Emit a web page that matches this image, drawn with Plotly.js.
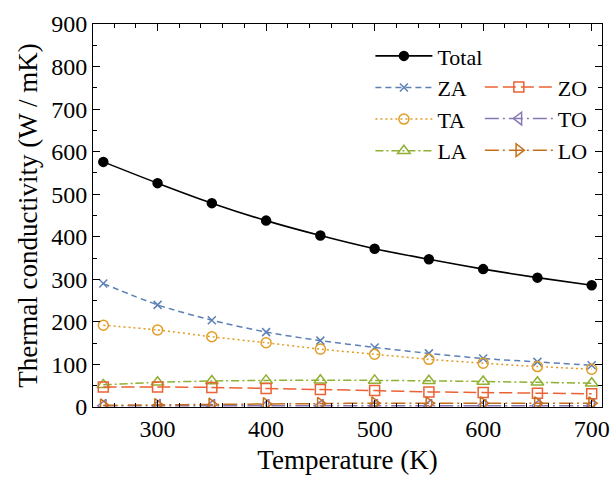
<!DOCTYPE html>
<html>
<head>
<meta charset="utf-8">
<script src="https://cdn.plot.ly/plotly-3.0.1.min.js"></script>
<style>html,body{margin:0;padding:0;background:#fff;}#chart{width:613px;height:477px;}</style>
</head>
<body>
<div id="chart"></div>
<script>
const temperature = [250, 300, 350, 400, 450, 500, 550, 600, 650, 700];
const total = [576, 526, 479, 438, 403, 372, 347, 324, 304, 286];
const za = [290, 240, 204, 176, 156, 140, 126, 114, 106, 98];
const ta = [192, 181, 165, 151, 136, 124, 112, 103, 95, 89];
const la = [52, 58, 61, 62.5, 63, 62.5, 61.5, 60, 58, 56];
const zo = [47, 47, 46, 43.5, 41, 38.5, 35.5, 34, 32.5, 31];
const to = [3, 3, 3, 3, 3, 3, 3, 3, 3, 3];
const lo = [4, 5, 6, 7, 8, 9, 9, 9, 9, 9];

const F = "Liberation Serif";

function tr(name, y, color, dash, symbol, size, legend, width) {
  return {
    x: temperature, y: y, name: name, type: 'scatter', mode: 'lines+markers',
    line: {color: color, dash: dash, width: width || 1.5, shape: 'spline', smoothing: 0.8},
    marker: {symbol: symbol, size: size, color: color, line: {color: color, width: 1.5}},
    legend: legend
  };
}

const data = [
  tr('Total', total, '#000000', 'solid', 'circle', 9, 'legend', 1.6),
  tr('ZA', za, '#5E81B5', '6px,4px', 'x-thin', 8, 'legend'),
  tr('TA', ta, '#E19C24', '2px,3px', 'circle-open', 10, 'legend'),
  tr('LA', la, '#8FB032', '8px,3px,2px,3px', 'triangle-up-open', 11, 'legend'),
  tr('ZO', zo, '#EB6235', '13px,5px', 'square-open', 10, 'legend2'),
  tr('TO', to, '#8778B3', '14px,4px,2px,4px', 'triangle-left-open', 11, 'legend2'),
  tr('LO', lo, '#C56E1A', '14px,4px,2px,4px', 'triangle-right-open', 11, 'legend2')
];

const axisCommon = {
  showline: true, linecolor: '#000', linewidth: 1, mirror: 'ticks',
  ticks: 'inside', ticklen: 7, tickcolor: '#000', tickwidth: 1,
  showgrid: false, zeroline: false,
  tickfont: {family: F, size: 24, color: '#000'}
};

const layout = {
  width: 613, height: 477,
  margin: {l: 93, r: 11, t: 24, b: 70},
  paper_bgcolor: '#fff', plot_bgcolor: '#fff',
  font: {family: F, color: '#000'},
  xaxis: Object.assign({}, axisCommon, {
    range: [240.5, 709.5], tickvals: [300, 400, 500, 600, 700],
    minor: {dtick: 20, tick0: 0, ticks: 'inside', ticklen: 4, tickcolor: '#000'},
    title: {text: 'Temperature (K)', font: {family: F, size: 27, color: '#000'}, standoff: 9}
  }),
  yaxis: Object.assign({}, axisCommon, {
    range: [0, 900], dtick: 100,
    minor: {dtick: 50, ticks: 'inside', ticklen: 4, tickcolor: '#000'},
    title: {text: 'Thermal conductivity (W / mK)', font: {family: F, size: 27, color: '#000'}, standoff: 5}
  }),
  legend: {
    x: 0.545, y: 0.971, xanchor: 'left', yanchor: 'top',
    bgcolor: 'rgba(0,0,0,0)', font: {family: F, size: 22, color: '#000'},
    tracegroupgap: 0, itemwidth: 57
  },
  legend2: {
    x: 0.76, y: 0.890, xanchor: 'left', yanchor: 'top',
    bgcolor: 'rgba(0,0,0,0)', font: {family: F, size: 22, color: '#000'},
    tracegroupgap: 0, itemwidth: 68
  },
  showlegend: true
};

Plotly.newPlot('chart', data, layout, {displayModeBar: false, staticPlot: true});
</script>
</body>
</html>
